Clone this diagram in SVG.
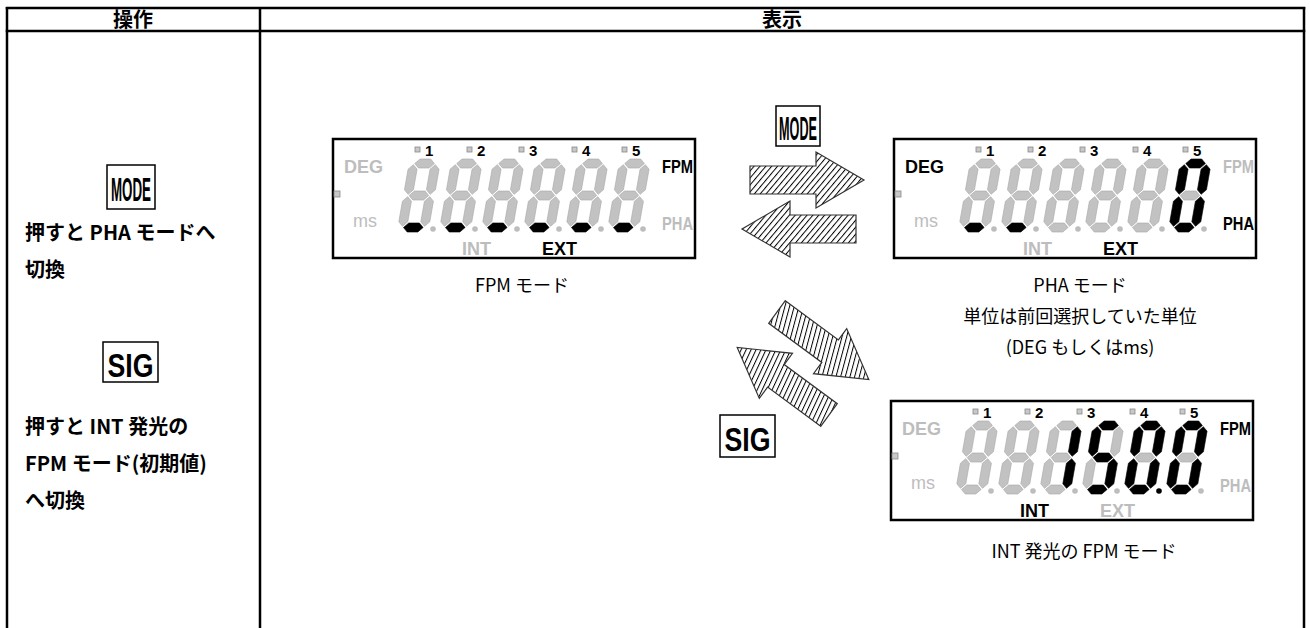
<svg xmlns="http://www.w3.org/2000/svg" xmlns:xlink="http://www.w3.org/1999/xlink" width="1310" height="628" viewBox="0 0 1310 628">
<style>
.tb{stroke:#000;stroke-width:2.5;fill:none}
.hd{font-family:"Noto Sans CJK JP",sans-serif;font-weight:bold;font-size:20px;text-anchor:middle}
.op{font-family:"Noto Sans CJK JP",sans-serif;font-weight:bold;font-size:20px}
.cap{font-family:"Noto Sans CJK JP",sans-serif;font-size:18px;text-anchor:middle}
.btn{fill:#fff;stroke:#000;stroke-width:1.5}
.btt{font-family:"Liberation Sans",Arial,sans-serif;font-weight:bold;font-size:34px;text-anchor:middle}
.pan{fill:#fff;stroke:#000;stroke-width:2.5}
.lb{font-family:"Liberation Sans",Arial,sans-serif;font-weight:bold;font-size:18px}
.ms{font-family:"Liberation Sans",Arial,sans-serif;font-size:18px}
.num{font-family:"Liberation Sans",Arial,sans-serif;font-weight:bold;font-size:15px}
.g{fill:#bdbdbd}
.k{fill:#000}
.off{fill:#c2c2c2;stroke:#a8a8a8;stroke-width:0.6}
.on{fill:#000;stroke:#000;stroke-width:0.6}
.ind{fill:#c8c8c8;stroke:#888;stroke-width:0.8}
.arw{stroke:#333;stroke-width:1.2}
</style>
<defs>
<pattern id="h1" patternUnits="userSpaceOnUse" width="4.5" height="10" patternTransform="rotate(40)"><rect width="4.5" height="10" fill="#fff"/><rect width="1" height="10" fill="#000"/></pattern>
<pattern id="h2" patternUnits="userSpaceOnUse" width="4.5" height="10" patternTransform="rotate(15)"><rect width="4.5" height="10" fill="#fff"/><rect width="1" height="10" fill="#000"/></pattern>
<pattern id="h3" patternUnits="userSpaceOnUse" width="4.5" height="10" patternTransform="rotate(25)"><rect width="4.5" height="10" fill="#fff"/><rect width="1" height="10" fill="#000"/></pattern>
<polygon id="sa" points="5.7,-68.5 10.2,-73 20.8,-73 25.3,-68.5 20.8,-64 10.2,-64"/>
<polygon id="sg" points="5.7,-36.5 10.2,-41 20.8,-41 25.3,-36.5 20.8,-32 10.2,-32"/>
<polygon id="sd" points="5.7,-4.5 10.2,-9 20.8,-9 25.3,-4.5 20.8,0 10.2,0"/>
<polygon id="sf" points="4.5,-67.3 9,-62.8 9,-42.2 4.5,-37.7 0,-42.2 0,-62.8"/>
<polygon id="sb" points="26.5,-67.3 31,-62.8 31,-42.2 26.5,-37.7 22,-42.2 22,-62.8"/>
<polygon id="se" points="4.5,-35.3 9,-30.8 9,-10.2 4.5,-5.7 0,-10.2 0,-30.8"/>
<polygon id="sc" points="26.5,-35.3 31,-30.8 31,-10.2 26.5,-5.7 22,-10.2 22,-30.8"/>
<g id="frame">
<rect class="pan" x="0" y="0" width="362" height="119"/>
<rect class="ind" x="1" y="52" width="6" height="6"/>
<rect class="ind" x="82" y="8" width="5" height="5"/><text class="num" x="92" y="17">1</text>
<rect class="ind" x="134" y="8" width="5" height="5"/><text class="num" x="144" y="17">2</text>
<rect class="ind" x="186" y="8" width="5" height="5"/><text class="num" x="196" y="17">3</text>
<rect class="ind" x="239" y="8" width="5" height="5"/><text class="num" x="249" y="17">4</text>
<rect class="ind" x="289" y="8" width="5" height="5"/><text class="num" x="299" y="17">5</text>
</g>
</defs>

<g id="table">
<line class="tb" x1="5.75" y1="8" x2="1305.25" y2="8"/>
<line class="tb" x1="5.75" y1="31" x2="1305.25" y2="31"/>
<line class="tb" x1="7" y1="7" x2="7" y2="628"/>
<line class="tb" x1="260" y1="7" x2="260" y2="628"/>
<line class="tb" x1="1304" y1="7" x2="1304" y2="628"/>
<text class="hd" x="133" y="26.5">操作</text>
<text class="hd" x="782" y="26.5">表示</text>
</g>

<g id="operations">
<rect class="btn" x="107" y="165" width="48" height="44"/>
<text class="btt" x="131" y="201" textLength="40" lengthAdjust="spacingAndGlyphs">MODE</text>
<text class="op" x="25" y="240">押すと PHA モードへ</text>
<text class="op" x="25" y="277">切換</text>
<rect class="btn" x="103" y="342" width="55" height="40"/>
<text class="btt" x="130.5" y="377" textLength="46" lengthAdjust="spacingAndGlyphs">SIG</text>
<text class="op" x="25" y="434">押すと INT 発光の</text>
<text class="op" x="25" y="471">FPM モード(初期値)</text>
<text class="op" x="25" y="508">へ切換</text>
</g>

<g id="connectors">
<rect class="btn" x="776" y="106" width="44" height="40"/>
<text class="btt" x="798" y="140" textLength="38" lengthAdjust="spacingAndGlyphs">MODE</text>
<polygon class="arw" fill="url(#h1)" points="750,166 816,166 816,152 864,180 816,208 816,194 750,194"/>
<polygon class="arw" fill="url(#h1)" points="856,215 790,215 790,201 742,229 790,257 790,243 856,243"/>
<polygon class="arw" fill="url(#h2)" points="785.3,300.7 838.4,339.9 846.7,328.6 868.8,379.6 813.5,373.7 821.8,362.4 768.7,323.3"/>
<polygon class="arw" fill="url(#h3)" points="820.7,426.3 767.6,387.1 759.3,398.4 737.2,347.4 792.5,353.3 784.2,364.6 837.3,403.7"/>
<rect class="btn" x="720" y="415" width="55" height="42"/>
<text class="btt" x="747.5" y="451" textLength="46" lengthAdjust="spacingAndGlyphs">SIG</text>
</g>

<g id="panel-fpm" transform="translate(333,139)">
<use href="#frame"/>
<text class="lb g" x="11" y="34">DEG</text>
<text class="ms g" x="20" y="88">ms</text>
<text class="lb k" x="329" y="34" textLength="31" lengthAdjust="spacingAndGlyphs">FPM</text>
<text class="lb g" x="329" y="91" textLength="31" lengthAdjust="spacingAndGlyphs">PHA</text>
<text class="lb g" x="129" y="116">INT</text>
<text class="lb k" x="209" y="116">EXT</text>
<g transform="translate(64,93) skewX(-10)"><use href="#sa" class="off"/><use href="#sb" class="off"/><use href="#sc" class="off"/><use href="#sd" class="on"/><use href="#se" class="off"/><use href="#sf" class="off"/><use href="#sg" class="off"/></g>
<g transform="translate(106,93) skewX(-10)"><use href="#sa" class="off"/><use href="#sb" class="off"/><use href="#sc" class="off"/><use href="#sd" class="on"/><use href="#se" class="off"/><use href="#sf" class="off"/><use href="#sg" class="off"/></g>
<g transform="translate(148,93) skewX(-10)"><use href="#sa" class="off"/><use href="#sb" class="off"/><use href="#sc" class="off"/><use href="#sd" class="on"/><use href="#se" class="off"/><use href="#sf" class="off"/><use href="#sg" class="off"/></g>
<g transform="translate(190,93) skewX(-10)"><use href="#sa" class="off"/><use href="#sb" class="off"/><use href="#sc" class="off"/><use href="#sd" class="on"/><use href="#se" class="off"/><use href="#sf" class="off"/><use href="#sg" class="off"/></g>
<g transform="translate(232,93) skewX(-10)"><use href="#sa" class="off"/><use href="#sb" class="off"/><use href="#sc" class="off"/><use href="#sd" class="on"/><use href="#se" class="off"/><use href="#sf" class="off"/><use href="#sg" class="off"/></g>
<g transform="translate(274,93) skewX(-10)"><use href="#sa" class="off"/><use href="#sb" class="off"/><use href="#sc" class="off"/><use href="#sd" class="on"/><use href="#se" class="off"/><use href="#sf" class="off"/><use href="#sg" class="off"/></g>
<g class="g"><circle cx="100" cy="90" r="2.8"/><circle cx="142" cy="90" r="2.8"/><circle cx="184" cy="90" r="2.8"/><circle cx="226" cy="90" r="2.8"/><circle cx="268" cy="90" r="2.8"/><circle cx="310" cy="90" r="2.8"/></g>
</g>

<g id="panel-pha" transform="translate(894,139)">
<use href="#frame"/>
<text class="lb k" x="11" y="34">DEG</text>
<text class="ms g" x="20" y="88">ms</text>
<text class="lb g" x="329" y="34" textLength="31" lengthAdjust="spacingAndGlyphs">FPM</text>
<text class="lb k" x="329" y="91" textLength="31" lengthAdjust="spacingAndGlyphs">PHA</text>
<text class="lb g" x="129" y="116">INT</text>
<text class="lb k" x="209" y="116">EXT</text>
<g transform="translate(64,93) skewX(-10)"><use href="#sa" class="off"/><use href="#sb" class="off"/><use href="#sc" class="off"/><use href="#sd" class="on"/><use href="#se" class="off"/><use href="#sf" class="off"/><use href="#sg" class="off"/></g>
<g transform="translate(106,93) skewX(-10)"><use href="#sa" class="off"/><use href="#sb" class="off"/><use href="#sc" class="off"/><use href="#sd" class="on"/><use href="#se" class="off"/><use href="#sf" class="off"/><use href="#sg" class="off"/></g>
<g transform="translate(148,93) skewX(-10)"><use href="#sa" class="off"/><use href="#sb" class="off"/><use href="#sc" class="off"/><use href="#sd" class="off"/><use href="#se" class="off"/><use href="#sf" class="off"/><use href="#sg" class="off"/></g>
<g transform="translate(190,93) skewX(-10)"><use href="#sa" class="off"/><use href="#sb" class="off"/><use href="#sc" class="off"/><use href="#sd" class="off"/><use href="#se" class="off"/><use href="#sf" class="off"/><use href="#sg" class="off"/></g>
<g transform="translate(232,93) skewX(-10)"><use href="#sa" class="off"/><use href="#sb" class="off"/><use href="#sc" class="off"/><use href="#sd" class="off"/><use href="#se" class="off"/><use href="#sf" class="off"/><use href="#sg" class="off"/></g>
<g transform="translate(274,93) skewX(-10)"><use href="#sa" class="on"/><use href="#sb" class="on"/><use href="#sc" class="on"/><use href="#sd" class="on"/><use href="#se" class="on"/><use href="#sf" class="on"/><use href="#sg" class="off"/></g>
<g class="g"><circle cx="100" cy="90" r="2.8"/><circle cx="142" cy="90" r="2.8"/><circle cx="184" cy="90" r="2.8"/><circle cx="226" cy="90" r="2.8"/><circle cx="268" cy="90" r="2.8"/><circle cx="310" cy="90" r="2.8"/></g>
</g>

<g id="panel-int" transform="translate(891,401)">
<use href="#frame"/>
<text class="lb g" x="11" y="34">DEG</text>
<text class="ms g" x="20" y="88">ms</text>
<text class="lb k" x="329" y="34" textLength="31" lengthAdjust="spacingAndGlyphs">FPM</text>
<text class="lb g" x="329" y="91" textLength="31" lengthAdjust="spacingAndGlyphs">PHA</text>
<text class="lb k" x="129" y="116">INT</text>
<text class="lb g" x="209" y="116">EXT</text>
<g transform="translate(64,93) skewX(-10)"><use href="#sa" class="off"/><use href="#sb" class="off"/><use href="#sc" class="off"/><use href="#sd" class="off"/><use href="#se" class="off"/><use href="#sf" class="off"/><use href="#sg" class="off"/></g>
<g transform="translate(106,93) skewX(-10)"><use href="#sa" class="off"/><use href="#sb" class="off"/><use href="#sc" class="off"/><use href="#sd" class="off"/><use href="#se" class="off"/><use href="#sf" class="off"/><use href="#sg" class="off"/></g>
<g transform="translate(148,93) skewX(-10)"><use href="#sa" class="off"/><use href="#sb" class="on"/><use href="#sc" class="on"/><use href="#sd" class="off"/><use href="#se" class="off"/><use href="#sf" class="off"/><use href="#sg" class="off"/></g>
<g transform="translate(190,93) skewX(-10)"><use href="#sa" class="on"/><use href="#sb" class="off"/><use href="#sc" class="on"/><use href="#sd" class="on"/><use href="#se" class="off"/><use href="#sf" class="on"/><use href="#sg" class="on"/></g>
<g transform="translate(232,93) skewX(-10)"><use href="#sa" class="on"/><use href="#sb" class="on"/><use href="#sc" class="on"/><use href="#sd" class="on"/><use href="#se" class="on"/><use href="#sf" class="on"/><use href="#sg" class="off"/></g>
<g transform="translate(274,93) skewX(-10)"><use href="#sa" class="on"/><use href="#sb" class="on"/><use href="#sc" class="on"/><use href="#sd" class="on"/><use href="#se" class="on"/><use href="#sf" class="on"/><use href="#sg" class="off"/></g>
<g class="g"><circle cx="100" cy="90" r="2.8"/><circle cx="142" cy="90" r="2.8"/><circle cx="184" cy="90" r="2.8"/><circle cx="226" cy="90" r="2.8"/><circle cx="310" cy="90" r="2.8"/></g>
<circle class="k" cx="268" cy="90" r="2.8"/>
</g>

<g id="captions">
<text class="cap" x="522" y="292">FPM モード</text>
<text class="cap" x="1080" y="292">PHA モード</text>
<text class="cap" x="1080" y="323">単位は前回選択していた単位</text>
<text class="cap" x="1080" y="354">(DEG もしくはms)</text>
<text class="cap" x="1084" y="558">INT 発光の FPM モード</text>
</g>
</svg>
